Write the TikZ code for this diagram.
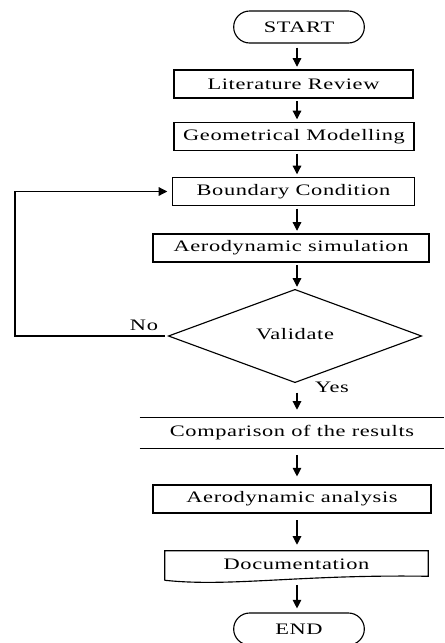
\documentclass[tikz,border=0pt]{standalone}
\usepackage{fontspec}
\setmainfont{Liberation Serif}[FakeStretch=1.4,LetterSpace=4]
\usetikzlibrary{arrows.meta,shapes.geometric,shapes.misc,calc}
\begin{document}
\begin{tikzpicture}[x=0.75pt,y=-0.75pt,
  font=\fontsize{12}{14}\selectfont,
  ln/.style={line width=0.85pt},
  box/.style={draw,ln,minimum width={#1*0.75pt},minimum height=21pt,inner sep=0pt},
  term/.style={draw,ln,rounded rectangle,minimum width=98pt,minimum height=24pt,inner sep=0pt},
  arr/.style={ln,-{Triangle[length=6.5pt,width=6.5pt]}},
  lbl/.style={inner sep=0pt}]
\useasboundingbox (0,0) rectangle (444,643);
\coordinate (ax) at (297,0);
\node[term] (start) at (299,27) {START};
\node[box=239] (lit) at (293.5,84) {Literature Review};
\node[box=240] (geo) at (294,136.5) {Geometrical Modelling};
\node[box=242] (bc) at (293.5,191.5) {Boundary Condition};
\node[box=276] (sim) at (291,248) {Aerodynamic simulation};
\node[diamond,draw,ln,aspect=2.7,minimum width=190pt,minimum height=70pt,inner sep=0pt] (val) at (295,336) {\raisebox{3pt}{Validate}};
\node[lbl] (no) at (144,325) {No};
\node[lbl] (yes) at (332,387) {Yes};
\node[minimum width=228pt,minimum height=22.5pt,inner sep=0pt] (cmp) at (292,433) {Comparison of the results};
\draw[ln] (cmp.north west) -- (cmp.north east);
\draw[ln] (cmp.south west) -- (cmp.south east);
\node[box=278] (ana) at (292,499) {Aerodynamic analysis};
\node[minimum width=197.25pt,minimum height=20.25pt,inner sep=0pt] (doc) at (296.5,564.5) {Documentation};
\draw[ln] ($(doc.south west)+(0,2)$) -- (doc.north west) -- (doc.north east) -- ($(doc.south east)+(0,-2)$)
  .. controls ($(doc.south east)+(-128,-4)$) and ($(doc.south west)+(65,9)$) .. ($(doc.south west)+(0,2)$);
\node[term] (end) at (299,629) {END};
\coordinate (fb) at (15,336);
\draw[arr,shorten <=3pt,shorten >=2pt] (ax |- start.south) -- (ax |- lit.north);
\draw[arr,shorten <=2pt,shorten >=2pt] (ax |- lit.south) -- (ax |- geo.north);
\draw[arr,shorten <=2pt,shorten >=2pt] (ax |- geo.south) -- (ax |- bc.north);
\draw[arr,shorten <=2pt,shorten >=2pt] (ax |- bc.south) -- (ax |- sim.north);
\draw[arr,shorten <=2pt,shorten >=1.5pt] (ax |- sim.south) -- (ax |- val.north);
\draw[arr,shorten <=7pt,shorten >=6pt] (ax |- val.south) -- (ax |- cmp.north);
\draw[arr,shorten <=5pt,shorten >=6pt] (ax |- cmp.south) -- (ax |- ana.north);
\draw[arr,shorten <=5pt,shorten >=4.5pt] (ax |- ana.south) -- (ax |- doc.north);
\draw[arr,shorten <=5pt,shorten >=3pt] (ax |- doc.south) -- (ax |- end.north);
\draw[arr,shorten <=2pt,shorten >=3.5pt] (val.west) -- (fb) |- (bc.west);
\end{tikzpicture}
\end{document}
